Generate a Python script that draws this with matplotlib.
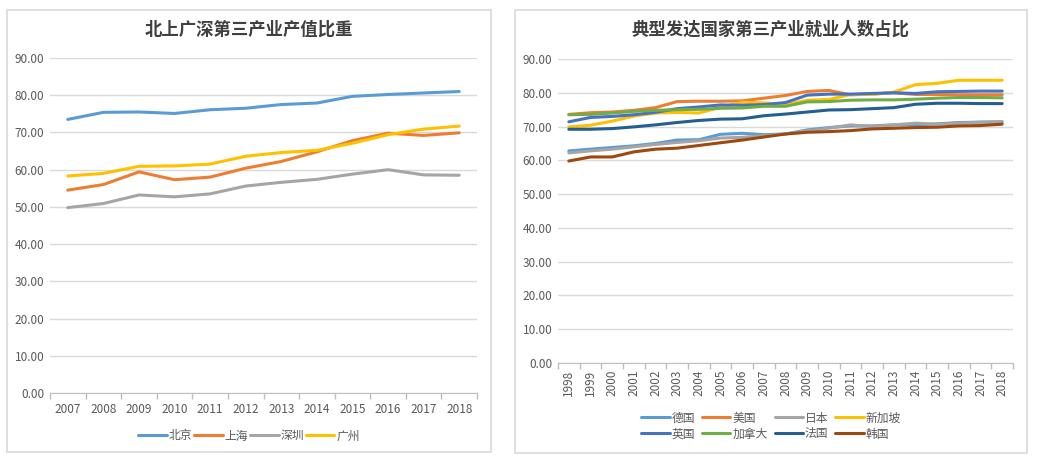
import matplotlib.pyplot as plt
import numpy as np
from matplotlib.patches import Rectangle

plt.rcParams['font.family'] = ['Noto Sans CJK SC', 'DejaVu Sans']

# left chart: share of tertiary industry in GDP
years_city = ['2007', '2008', '2009', '2010', '2011', '2012',
              '2013', '2014', '2015', '2016', '2017', '2018']
beijing = [73.5, 75.4, 75.5, 75.1, 76.1, 76.5, 77.5, 77.9, 79.7, 80.2, 80.6, 81.0]
shanghai = [54.5, 56.0, 59.4, 57.3, 58.0, 60.4, 62.2, 64.8, 67.8, 69.8, 69.2, 69.9]
shenzhen = [49.8, 50.9, 53.2, 52.7, 53.5, 55.6, 56.6, 57.4, 58.8, 60.0, 58.6, 58.5]
guangzhou = [58.3, 59.0, 60.9, 61.0, 61.5, 63.6, 64.6, 65.2, 67.1, 69.4, 70.9, 71.7]
city_names = ['北京', '上海', '深圳', '广州']

# right chart: share of employment in tertiary industry
years_country = [str(y) for y in range(1998, 2019)]
germany = [62.8, 63.3, 63.8, 64.3, 65.0, 66.0, 66.1, 67.7, 68.0, 67.6, 67.8,
           69.0, 69.7, 70.2, 70.2, 70.5, 70.5, 70.8, 71.2, 71.3, 71.3]
usa = [73.6, 74.1, 74.3, 74.8, 75.6, 77.4, 77.5, 77.5, 77.6, 78.4, 79.2,
       80.4, 80.7, 79.4, 79.6, 80.0, 79.5, 79.5, 79.4, 79.4, 79.4]
japan = [62.2, 62.8, 63.3, 64.0, 64.7, 65.3, 65.8, 66.6, 66.8, 67.3, 67.8,
         68.7, 69.5, 70.5, 70.0, 70.5, 71.0, 70.7, 71.0, 71.3, 71.5]
singapore = [69.9, 70.4, 71.6, 73.1, 74.0, 74.2, 74.0, 75.7, 77.2, 77.0, 76.5,
             77.8, 78.0, 79.5, 79.5, 80.2, 82.4, 82.8, 83.7, 83.7, 83.7]
uk = [71.4, 72.7, 73.0, 73.5, 74.2, 75.3, 75.8, 76.4, 76.3, 76.5, 77.1,
      79.3, 79.6, 79.6, 79.8, 80.0, 79.8, 80.3, 80.4, 80.5, 80.5]
canada = [73.5, 73.6, 74.0, 74.5, 74.8, 75.0, 75.1, 75.4, 75.5, 76.0, 76.0,
          77.3, 77.4, 77.8, 77.9, 77.9, 78.1, 78.4, 78.6, 78.6, 78.5]
france = [69.2, 69.2, 69.4, 69.9, 70.5, 71.2, 71.8, 72.2, 72.3, 73.2, 73.7,
          74.3, 74.9, 75.0, 75.3, 75.6, 76.6, 76.9, 76.9, 76.8, 76.8]
korea = [59.8, 61.0, 61.0, 62.5, 63.3, 63.6, 64.4, 65.2, 66.0, 66.9, 67.8,
         68.3, 68.5, 68.8, 69.3, 69.5, 69.7, 69.8, 70.2, 70.3, 70.7]
country_names = ['德国', '美国', '日本', '新加坡', '英国', '加拿大', '法国', '韩国']

W, H = 1037, 466
fig = plt.figure(figsize=(W / 100, H / 100), dpi=100)
fig.patch.set_facecolor('white')


def px_axes(x0, y0, x1, y1):
    # pixel box (top-left origin) -> figure axes
    return fig.add_axes([x0 / W, 1 - y1 / H, (x1 - x0) / W, (y1 - y0) / H])


def frame(x0, y0, x1, y1):
    fig.patches.append(Rectangle((x0 / W, 1 - y1 / H), (x1 - x0) / W, (y1 - y0) / H,
                                 transform=fig.transFigure, fill=False,
                                 edgecolor='#d9d9d9', linewidth=1.2))


def style_axes(ax, labels, rotate=False):
    n = len(labels)
    x = np.arange(n)
    ax.set_xlim(-0.5, n - 0.5)
    ax.set_ylim(0, 90)
    ax.set_yticks(np.arange(0, 91, 10))
    ax.set_yticklabels([f'{v:.2f}' for v in np.arange(0, 91, 10)])
    ax.set_xticks(x)
    ax.set_xticklabels(labels, rotation=90 if rotate else 0)
    ax.set_xticks(np.arange(n + 1) - 0.5, minor=True)
    ax.tick_params(axis='x', which='major', length=0, pad=7, labelsize=8.5, colors='#595959')
    ax.tick_params(axis='x', which='minor', length=4, color='#bfbfbf', width=1)
    ax.tick_params(axis='y', length=0, labelsize=8.5, colors='#595959', pad=4)
    ax.grid(axis='y', color='#d9d9d9', linewidth=1)
    ax.set_axisbelow(True)
    for s in ['top', 'right', 'left']:
        ax.spines[s].set_visible(False)
    ax.spines['bottom'].set_color('#bfbfbf')
    ax.set_facecolor('none')


# ---- left panel
frame(7, 10, 491, 452)
ax1 = px_axes(50, 58, 477, 393)
xc = np.arange(len(years_city))
city_colors = ['#5b9bd5', '#ed7d31', '#a5a5a5', '#ffc000']
for vals, c, name in zip([beijing, shanghai, shenzhen, guangzhou], city_colors, city_names):
    ax1.plot(xc, vals, color=c, linewidth=2.2, label=name, solid_capstyle='round')
style_axes(ax1, years_city)
fig.text(249 / W, 1 - 30 / H, '北上广深第三产业产值比重', ha='center', va='center',
         fontsize=12.5, fontweight='bold', color='#404040')
fig.legend(*ax1.get_legend_handles_labels(), loc='center',
           bbox_to_anchor=(249 / W, 1 - 436 / H), ncol=4,
           frameon=False, fontsize=8.5, handlelength=2.4, handletextpad=0.15,
           columnspacing=0.2, labelcolor='#595959')

# ---- right panel
frame(515, 10, 1027, 453)
ax2 = px_axes(558, 59, 1013, 363)
xk = np.arange(len(years_country))
country_vals = [germany, usa, japan, singapore, uk, canada, france, korea]
country_colors = ['#5b9bd5', '#ed7d31', '#a5a5a5', '#ffc000',
                  '#4472c4', '#70ad47', '#255e91', '#9e480e']
for vals, c, name in zip(country_vals, country_colors, country_names):
    ax2.plot(xk, vals, color=c, linewidth=2.2, label=name, solid_capstyle='round')
style_axes(ax2, years_country, rotate=True)
ax2.tick_params(axis='x', which='major', pad=5)
fig.text(771 / W, 1 - 30 / H, '典型发达国家第三产业就业人数占比', ha='center', va='center',
         fontsize=12.5, fontweight='bold', color='#404040')
# legend is filled column by column, so interleave to get rows like the reference
h, l = ax2.get_legend_handles_labels()
order = [0, 4, 1, 5, 2, 6, 3, 7]
fig.legend([h[i] for i in order], [l[i] for i in order], loc='center',
           bbox_to_anchor=(771 / W, 1 - 426 / H), ncol=4,
           frameon=False, fontsize=8.5, handlelength=2.4, handletextpad=0.15,
           columnspacing=0.6, labelspacing=0.25, labelcolor='#595959')

fig.savefig('out.png', dpi=100, facecolor='white')
